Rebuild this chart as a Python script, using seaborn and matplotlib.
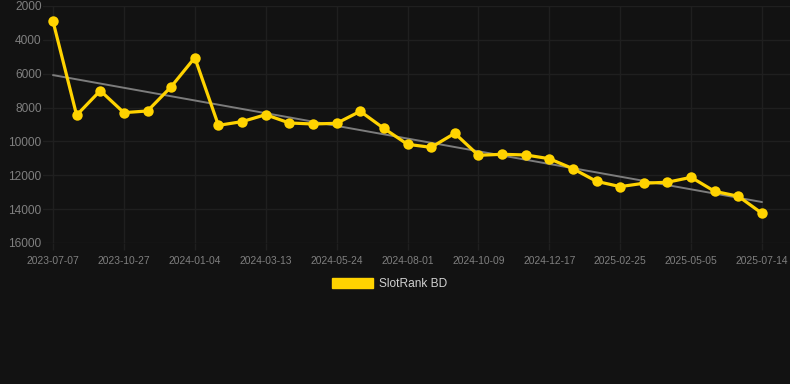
import matplotlib
matplotlib.use("Agg")
import matplotlib.pyplot as plt
from matplotlib.patches import Patch
import seaborn as sns
import numpy as np
import pandas as pd

# rank history, one entry per crawl date
dates = [
    "2023-07-07", "2023-08-13", "2023-09-20", "2023-10-27", "2023-11-19",
    "2023-12-12", "2024-01-04", "2024-01-27", "2024-02-19", "2024-03-13",
    "2024-04-06", "2024-04-30", "2024-05-24", "2024-06-16", "2024-07-09",
    "2024-08-01", "2024-08-24", "2024-09-16", "2024-10-09", "2024-11-01",
    "2024-11-24", "2024-12-17", "2025-01-09", "2025-02-02", "2025-02-25",
    "2025-03-20", "2025-04-12", "2025-05-05", "2025-05-28", "2025-06-21",
    "2025-07-14",
]
ranks = [
    2900, 8450, 7000, 8300, 8200, 6770, 5050, 9050, 8830, 8420,
    8910, 8970, 8930, 8220, 9230, 10170, 10350, 9520, 10820, 10760,
    10800, 11020, 11610, 12360, 12670, 12470, 12410, 12120, 12950, 13240,
    14250,
]
series_name = "SlotRank BD"
y_ticks = [2000, 4000, 6000, 8000, 10000, 12000, 14000, 16000]

bg = "#121212"
grid_c = "#1f1f1f"
yellow = "#FFD300"
tick_c = "#7f7f7f"

df = pd.DataFrame({"idx": np.arange(len(dates)), "date": dates, "rank": ranks})

sns.set_theme(style="dark")
plt.rcParams["font.family"] = ["Liberation Sans", "DejaVu Sans"]

fig = plt.figure(figsize=(7.9, 3.84), dpi=100, facecolor=bg)
ax = fig.add_axes([43 / 790, (384 - 243) / 384, (790 - 43) / 790, 237 / 384])
ax.set_facecolor(bg)

# linear trend
coef = np.polyfit(df["idx"], df["rank"], 1)
ax.plot(df["idx"], np.polyval(coef, df["idx"]), color="#7c7c7c", lw=1.4, zorder=2)

sns.lineplot(data=df, x="idx", y="rank", ax=ax, color=yellow, lw=2.3,
             marker="o", markersize=7.5, markeredgewidth=0, zorder=3)

ax.set_ylim(16000, 2000)
px = 709 / 30
ax.set_xlim(-10 / px, 30 + 28 / px)
ax.set_yticks(y_ticks)
ax.set_yticklabels([str(v) for v in y_ticks])
tick_idx = list(range(0, len(dates), 3))
ax.set_xticks(tick_idx)
ax.set_xticklabels([dates[i] for i in tick_idx])

ax.grid(True, color=grid_c, lw=1)
for s in ax.spines.values():
    s.set_visible(False)
ax.tick_params(axis="x", colors=grid_c, labelcolor=tick_c, labelsize=7.4,
               length=5, width=1, pad=4, bottom=True)
ax.tick_params(axis="y", colors=grid_c, labelcolor=tick_c, labelsize=8.6,
               length=0, pad=1)
ax.set_xlabel("")
ax.set_ylabel("")

handle = Patch(facecolor=yellow, edgecolor=yellow)
fig.legend([handle], [series_name], loc="center", bbox_to_anchor=(0.493, 1 - 284 / 384),
           frameon=False, handlelength=3.4, handleheight=0.9, handletextpad=0.5,
           fontsize=8.6, labelcolor="#d0d0d0")

fig.savefig("out.png", dpi=100, facecolor=bg)
